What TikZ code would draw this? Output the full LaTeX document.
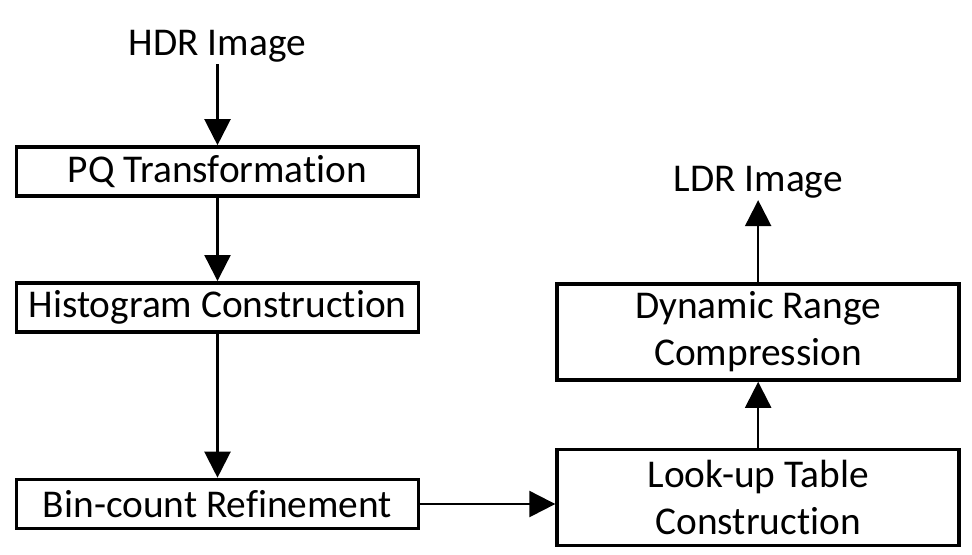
\documentclass[tikz,border=0pt]{standalone}
\usepackage{fontspec}
\setmainfont{Carlito}[RawFeature={-liga}]
\usetikzlibrary{arrows.meta, positioning}
\tikzstyle{module} = [rectangle, minimum width=10.05cm, minimum height=1.225cm, text centered, draw=black, line width=2.6pt]
\tikzstyle{bigmodule} = [module, minimum height=2.4cm, align=center]
\tikzstyle{imgtext} = [inner sep=1pt]
\tikzstyle{flow} = [-{Triangle[length=0.65cm, width=0.65cm]}, line width=1.6pt]

\begin{document}
\begin{tikzpicture}[font=\fontsize{28}{33.4}\selectfont]
        \useasboundingbox (0,0) rectangle (24.3,-13.85);
        \node[module] (pq) at (5.4375,-4.2875) {PQ Transformation};
        \node[imgtext, above=2.025cm of pq] (hdr) {HDR Image};
        \node[module, below=2.08cm of pq] (hist) {Histogram Construction};
        \node[module, below=3.6cm of hist] (bin) {Bin-count Refinement};
        \node[bigmodule, right=3.375cm of bin, yshift=0.16cm] (lut) {Look-up Table\\Construction};
        \node[bigmodule, above=1.65cm of lut] (drc) {Dynamic Range\\Compression};
        \node[imgtext, above=2.05cm of drc] (ldr) {LDR Image};

        \draw[flow] (hdr) -- (pq);
        \draw[flow] (pq) -- (hist);
        \draw[flow] (hist) -- (bin);
        \draw[flow] (bin.east) -- (bin.east -| lut.west);
        \draw[flow] (lut) -- (drc);
        \draw[flow] (drc) -- (ldr);
    \end{tikzpicture}
\end{document}
